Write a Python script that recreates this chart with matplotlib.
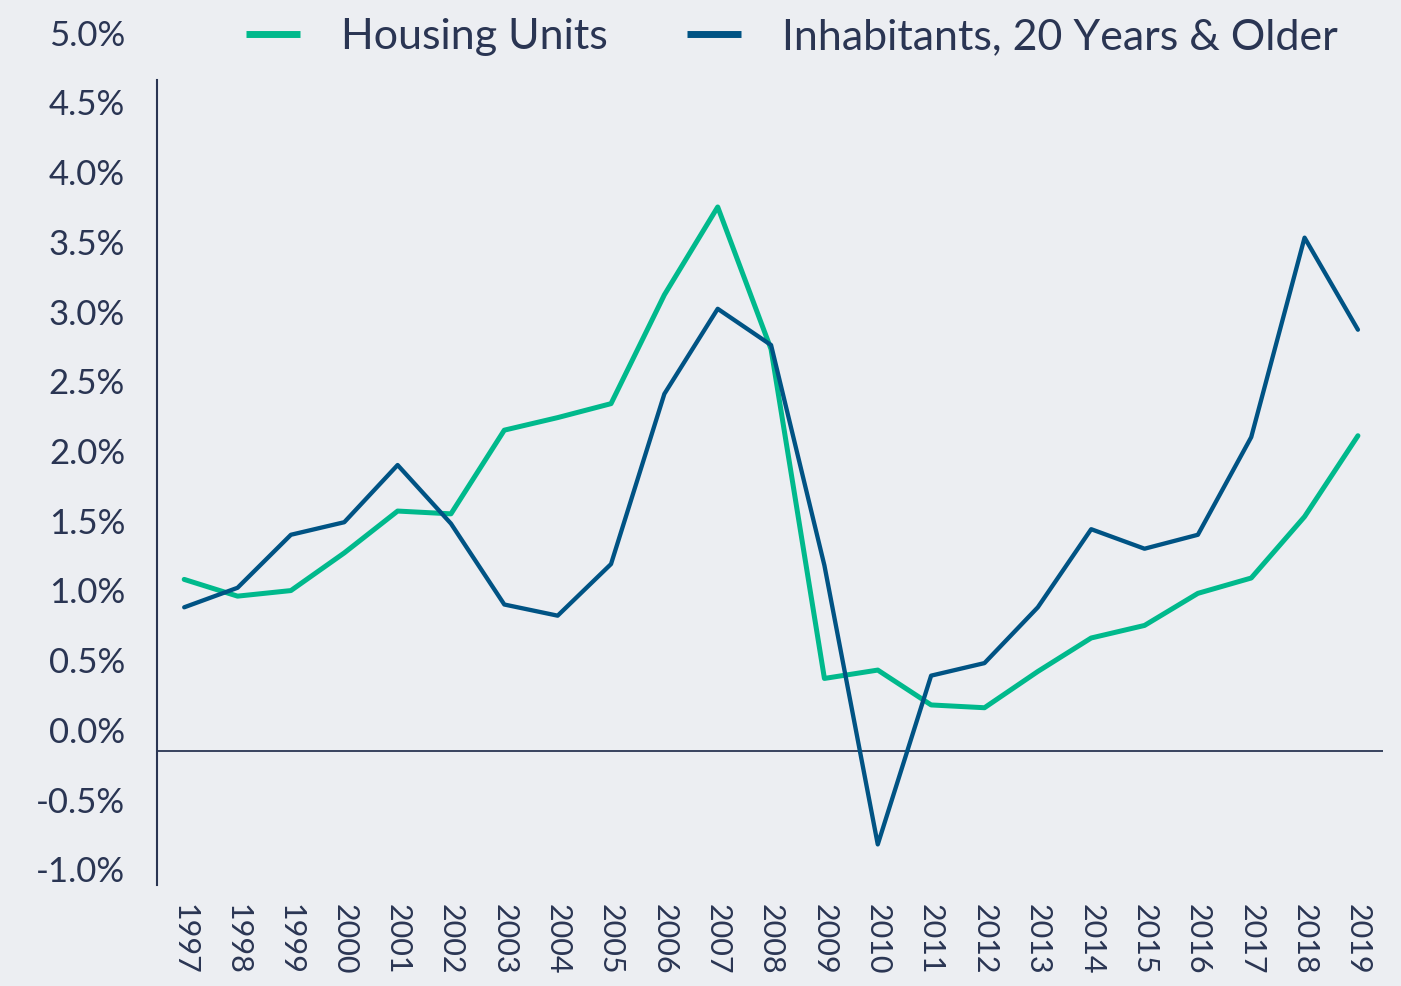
import matplotlib.pyplot as plt
import matplotlib.transforms as mtransforms
from matplotlib import font_manager

# Dados (variação anual, %)
anos = list(range(1997, 2020))
moradias = [1.23, 1.11, 1.15, 1.42, 1.72, 1.70, 2.30, 2.39, 2.49, 3.27, 3.90, 2.88,
            0.52, 0.58, 0.33, 0.31, 0.57, 0.81, 0.90, 1.13, 1.24, 1.68, 2.26]
habitantes = [1.03, 1.17, 1.55, 1.64, 2.05, 1.63, 1.05, 0.97, 1.34, 2.56, 3.17, 2.91,
              1.33, -0.67, 0.54, 0.63, 1.03, 1.59, 1.45, 1.55, 2.25, 3.68, 3.02]
ticks_y = [-1.0, -0.5, 0.0, 0.5, 1.0, 1.5, 2.0, 2.5, 3.0, 3.5, 4.0, 4.5, 5.0]
rotulos_y = ["-1.0%", "-0.5%", "0.0%", "0.5%", "1.0%", "1.5%", "2.0%", "2.5%",
             "3.0%", "3.5%", "4.0%", "4.5%", "5.0%"]

fundo = '#eceef2'
texto = '#2a3553'
verde = '#00b98c'
azul = '#005384'

nomes = {f.name for f in font_manager.fontManager.ttflist}
fonte = 'Lato' if 'Lato' in nomes else 'DejaVu Sans'
plt.rcParams['font.family'] = [fonte, 'DejaVu Sans']

fig = plt.figure(figsize=(14.01, 9.86), dpi=100, facecolor=fundo)
ax = fig.add_axes([157 / 1401, 1 - 892 / 986, (1383 - 157) / 1401, (892 - 46) / 986])
ax.set_facecolor(fundo)

ax.plot(anos, moradias, color=verde, linewidth=3.6, label='Housing Units',
        solid_joinstyle='round', solid_capstyle='round', zorder=3)
ax.plot(anos, habitantes, color=azul, linewidth=3.1, label='Inhabitants, 20 Years & Older',
        solid_joinstyle='round', solid_capstyle='round', zorder=4)

ax.axhline(0, color=texto, linewidth=1.3, zorder=2)

ax.set_xlim(1996.49, 2019.47)
ax.set_ylim(-1.011, 5.054)

for lado in ['top', 'right', 'bottom']:
    ax.spines[lado].set_visible(False)
ax.spines['left'].set_color(texto)
ax.spines['left'].set_linewidth(1.5)
ax.spines['left'].set_bounds(-0.96, 4.81)

ax.set_xticks(anos)
ax.set_xticklabels([str(a) for a in anos], rotation=-90, fontsize=22,
                   color=texto, va='top')
ax.set_yticks(ticks_y)
ax.set_yticklabels(rotulos_y, fontsize=25, color=texto)
ax.tick_params(axis='both', length=0)
ax.tick_params(axis='x', pad=9)
ax.tick_params(axis='y', pad=23)

# rótulos do eixo y deslocados para cima, como no original
desloc = mtransforms.ScaledTranslation(0, 21 / 100, fig.dpi_scale_trans)
for rot in ax.get_yticklabels():
    rot.set_transform(rot.get_transform() + desloc)

leg = fig.legend(loc='center', bbox_to_anchor=(792 / 1401, 1 - 37 / 986), ncol=2,
                 frameon=False, handlelength=1.25, handletextpad=0.95,
                 columnspacing=1.85, prop={'size': 31})
for linha in leg.get_lines():
    linha.set_linewidth(5)
    linha.set_solid_capstyle('butt')
for t in leg.get_texts():
    t.set_color(texto)

fig.savefig('out.png', dpi=100, facecolor=fundo)
